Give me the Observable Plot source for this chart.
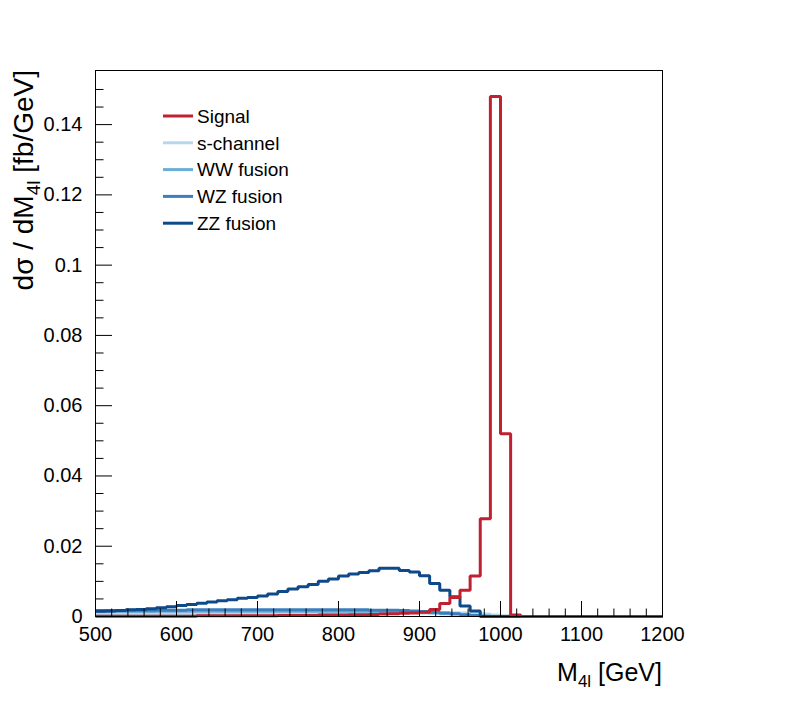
<!DOCTYPE html>
<html><head><meta charset="utf-8">
<script src="https://cdn.jsdelivr.net/npm/d3@7"></script>
<script src="https://cdn.jsdelivr.net/npm/@observablehq/plot@0.6"></script>
<style>body{margin:0;background:#fff}</style>
</head><body><div id="chart"></div>
<script>
// Histogram binning: 56 bins of 12.5 GeV from 500 to 1200 GeV
const binLow = 500, binWidth = 12.5;

const signal = [
  0.0001,0.0001,0.0001,0.0001,0.0001,0.0001,0.0001,0.0001,0.0001,0.0001,
  0.0002,0.0002,0.0002,0.0002,0.0002,0.0002,0.0002,0.0002,0.0003,0.0003,
  0.0003,0.0003,0.0004,0.0004,0.0004,0.0005,0.0005,0.0006,0.0007,0.0008,
  0.0009,0.0010,0.0012,0.0020,0.0037,0.0054,0.0075,0.0115,0.0278,0.148,
  0.052,0.0004,0,0,0,0,0,0,0,0,
  0,0,0,0,0,0];
const sChannel = [
  0.0007,0.0007,0.0007,0.0007,0.0008,0.0008,0.0008,0.0008,0.0008,0.0008,
  0.0008,0.0008,0.0009,0.0009,0.0009,0.0009,0.0009,0.0009,0.0009,0.0009,
  0.0009,0.0009,0.0009,0.0010,0.0010,0.0010,0.0010,0.0010,0.0010,0.0010,
  0.0011,0.0011,0.0011,0.0011,0.0011,0.0011,0.0010,0.0009,0.0007,0.0004,
  0.0002,0,0,0,0,0,0,0,0,0,
  0,0,0,0,0,0];
const wwFusion = [
  0.0014,0.0014,0.0014,0.0014,0.0014,0.0014,0.0015,0.0015,0.0015,0.0015,
  0.0015,0.0015,0.0015,0.0015,0.0015,0.0015,0.0015,0.0015,0.0015,0.0015,
  0.0015,0.0015,0.0015,0.0015,0.0015,0.0015,0.0015,0.0014,0.0014,0.0014,
  0.0013,0.0012,0.0011,0.0010,0.0008,0.0007,0.0005,0.0003,0.0001,0,
  0,0,0,0,0,0,0,0,0,0,
  0,0,0,0,0,0];
const wzFusion = [
  0.0017,0.0017,0.0017,0.0018,0.0018,0.0018,0.0018,0.0018,0.0018,0.0019,
  0.0019,0.0019,0.0019,0.0019,0.0019,0.0019,0.0019,0.0019,0.0019,0.0019,
  0.0019,0.0019,0.0019,0.0019,0.0019,0.0019,0.0019,0.0018,0.0018,0.0018,
  0.0017,0.0016,0.0014,0.0012,0.0010,0.0008,0.0005,0.0003,0.0001,0,
  0,0,0,0,0,0,0,0,0,0,
  0,0,0,0,0,0];
const zzFusion = [
  0.0015,0.0016,0.0017,0.0019,0.0020,0.0022,0.0025,0.0028,0.0031,0.0034,
  0.0038,0.0041,0.0045,0.0048,0.0052,0.0054,0.0058,0.0064,0.0071,0.0078,
  0.0085,0.0091,0.0100,0.0107,0.0115,0.0121,0.0125,0.0130,0.0137,0.0137,
  0.0131,0.0127,0.0116,0.0094,0.0075,0.0056,0.0030,0.0016,0,0,
  0,0,0,0,0,0,0,0,0,0,
  0,0,0,0,0,0];

const seriesNames = ["Signal","s-channel","WW fusion","WZ fusion","ZZ fusion"];
const seriesColors = ["#c0202f","#b6d7ec","#6baed6","#3a7fbd","#0e4a8a"];
const seriesValues = [signal, sChannel, wwFusion, wzFusion, zzFusion];
const drawOrder = [1,2,3,4,0];

const xMajor = [500,600,700,800,900,1000,1100,1200];
const xTickLabels = ["500","600","700","800","900","1000","1100","1200"];
const yMajor = [0,0.02,0.04,0.06,0.08,0.10,0.12,0.14];
const yTickLabels = ["0","0.02","0.04","0.06","0.08","0.1","0.12","0.14"];
const xMinorStep = 20, yMinorStep = 0.005;
const yMax = 0.1554;

function stepPoints(vals){
  const pts = vals.map((v,i)=>({x: binLow + i*binWidth, y: v}));
  pts.push({x: binLow + vals.length*binWidth, y: vals[vals.length-1]});
  return pts;
}
const xMinor = d3.range(500, 1200.1, xMinorStep).filter(v => !xMajor.includes(v));
const yMinor = d3.range(0, 0.1501, yMinorStep).map(v => +v.toFixed(3)).filter(v => !yMajor.some(m => Math.abs(m-v) < 1e-9));

const W = 789, H = 701, mL = 95, mR = 127, mT = 70, mB = 85;
const fw = W - mL - mR, fh = H - mT - mB;
const font = "'Liberation Sans', Arial, Helvetica, sans-serif";

const chart = Plot.plot({
  width: W, height: H, marginLeft: mL, marginRight: mR, marginTop: mT, marginBottom: mB,
  style: {fontFamily: font, fontSize: "20px", color: "black", background: "white"},
  x: {domain: [500, 1200]},
  y: {domain: [0, yMax]},
  marks: [
    ...drawOrder.map(i => Plot.line(stepPoints(seriesValues[i]), {
      x: "x", y: "y", curve: "step-after", stroke: seriesColors[i],
      strokeWidth: 3, strokeLinejoin: "miter", strokeLinecap: "butt"
    })),
    Plot.frame({stroke: "black", strokeWidth: 1}),
    Plot.tickX(xMajor, {x: d => d, insetTop: fh - 15, stroke: "black"}),
    Plot.tickX(xMinor, {x: d => d, insetTop: fh - 7.5, stroke: "black"}),
    Plot.tickY(yMajor, {y: d => d, insetRight: fw - 17, stroke: "black"}),
    Plot.tickY(yMinor, {y: d => d, insetRight: fw - 8.5, stroke: "black"}),
    Plot.axisX(xMajor, {tickSize: 0, tickPadding: 10, label: null,
      tickFormat: d => xTickLabels[xMajor.indexOf(d)]}),
    Plot.axisY(yMajor, {tickSize: 0, tickPadding: 13, label: null,
      tickFormat: d => yTickLabels[yMajor.findIndex(m => Math.abs(m-d) < 1e-9)]})
  ]
});
document.getElementById("chart").appendChild(chart);

const svg = d3.select(chart);
// Y axis title
const yt = svg.append("text")
  .attr("transform", `translate(33,${mT}) rotate(-90)`)
  .attr("text-anchor", "end")
  .attr("font-family", font).attr("font-size", 28).attr("fill", "black");
yt.append("tspan").text("dσ / dM");
yt.append("tspan").attr("font-size", 19).attr("dy", 7).text("4l");
yt.append("tspan").attr("dy", -7).text(" [fb/GeV]");
// X axis title
const xt = svg.append("text")
  .attr("transform", `translate(${W - mR},681)`)
  .attr("text-anchor", "end")
  .attr("font-family", font).attr("font-size", 25).attr("fill", "black");
xt.append("tspan").text("M");
xt.append("tspan").attr("font-size", 17).attr("dy", 6).text("4l");
xt.append("tspan").attr("dy", -6).text(" [GeV]");
// Legend
const legY0 = 116, legDY = 26.8;
seriesNames.forEach((name, i) => {
  const y = legY0 + i*legDY;
  svg.append("line").attr("x1", 163).attr("x2", 193).attr("y1", y).attr("y2", y)
    .attr("stroke", seriesColors[i]).attr("stroke-width", 3);
  svg.append("text").attr("x", 197).attr("y", y).attr("dy", "0.36em")
    .attr("text-anchor", "start")
    .attr("font-family", font).attr("font-size", 19).attr("fill", "black").text(name);
});
</script>
</body></html>
